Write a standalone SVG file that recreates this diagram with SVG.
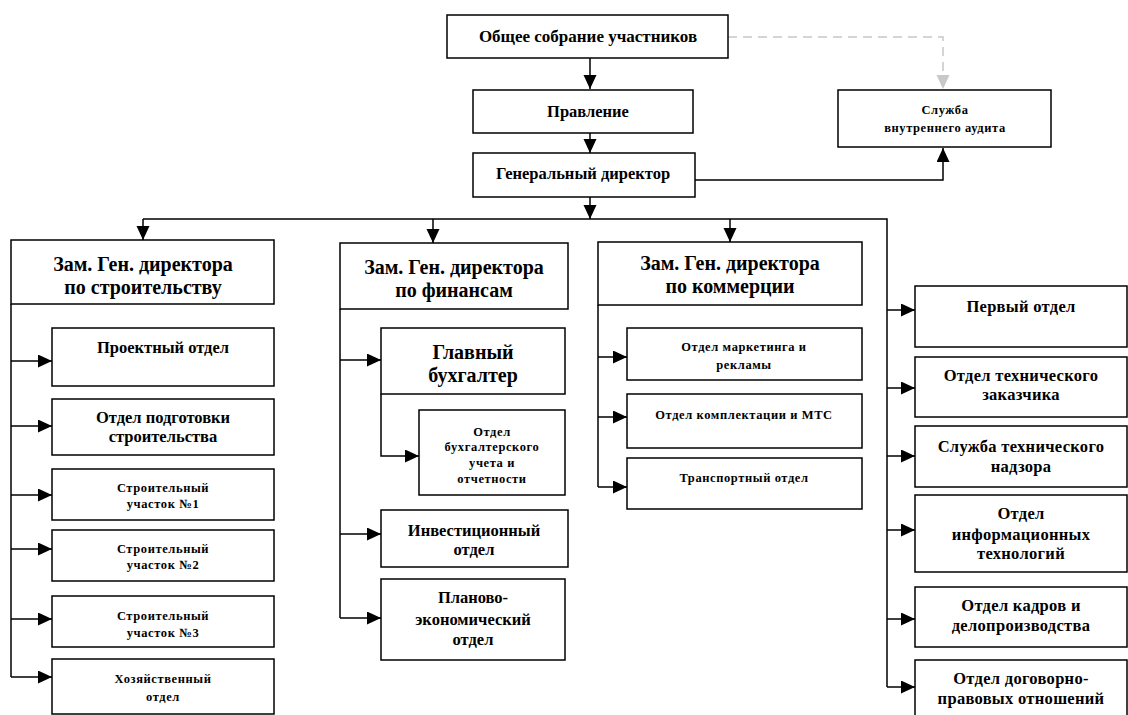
<svg xmlns="http://www.w3.org/2000/svg" width="1128" height="715" viewBox="0 0 1128 715">
<defs>
<marker id="ah" markerUnits="userSpaceOnUse" markerWidth="15" markerHeight="14" refX="14" refY="6.5" orient="auto"><path d="M0,0 L14,6.5 L0,13 z" fill="#000"/></marker>
<marker id="ahg" markerUnits="userSpaceOnUse" markerWidth="15" markerHeight="14" refX="14" refY="6.5" orient="auto"><path d="M0,0 L14,6.5 L0,13 z" fill="#c8c8c8"/></marker>
<style>
rect{fill:#fff;stroke:#000;stroke-width:1.5}
text{font-family:"Liberation Serif","Times New Roman",serif;font-weight:bold;fill:#000;text-anchor:middle}
.m{font-size:16.5px}
.b{font-size:20px}
.r{font-size:16.5px;letter-spacing:0.3px}
.s{font-size:12.5px;letter-spacing:0.6px}
.c{fill:none;stroke:#000;stroke-width:1.5}
</style>
</defs>
<g id="connectors">
<path class="c" d="M590,58 V89" marker-end="url(#ah)"/>
<path class="c" d="M590,133 V153" marker-end="url(#ah)"/>
<path d="M728,37 H943 V89" fill="none" stroke="#c8c8c8" stroke-width="1.5" stroke-dasharray="9,6" marker-end="url(#ahg)"/>
<path class="c" d="M695,180 H943 V148" marker-end="url(#ah)"/>
<path class="c" d="M590,197 V219" marker-end="url(#ah)"/>
<path class="c" d="M143,219 H887 V687"/>
<path class="c" d="M143,219 V240" marker-end="url(#ah)"/>
<path class="c" d="M433,219 V243" marker-end="url(#ah)"/>
<path class="c" d="M730,219 V242" marker-end="url(#ah)"/>
<path class="c" d="M11,304 V677"/>
<path class="c" d="M11,361 H52" marker-end="url(#ah)"/>
<path class="c" d="M11,426 H52" marker-end="url(#ah)"/>
<path class="c" d="M11,495 H52" marker-end="url(#ah)"/>
<path class="c" d="M11,549 H52" marker-end="url(#ah)"/>
<path class="c" d="M11,619 H52" marker-end="url(#ah)"/>
<path class="c" d="M11,677 H52" marker-end="url(#ah)"/>
<path class="c" d="M340,309 V618"/>
<path class="c" d="M340,360 H381" marker-end="url(#ah)"/>
<path class="c" d="M340,534 H381" marker-end="url(#ah)"/>
<path class="c" d="M340,618 H381" marker-end="url(#ah)"/>
<path class="c" d="M381,394 V456 H419" marker-end="url(#ah)"/>
<path class="c" d="M598,305 V487"/>
<path class="c" d="M598,357 H627" marker-end="url(#ah)"/>
<path class="c" d="M598,417 H627" marker-end="url(#ah)"/>
<path class="c" d="M598,487 H627" marker-end="url(#ah)"/>
<path class="c" d="M887,310 H915" marker-end="url(#ah)"/>
<path class="c" d="M887,388 H915" marker-end="url(#ah)"/>
<path class="c" d="M887,456 H915" marker-end="url(#ah)"/>
<path class="c" d="M887,530 H915" marker-end="url(#ah)"/>
<path class="c" d="M887,619 H915" marker-end="url(#ah)"/>
<path class="c" d="M887,687 H915" marker-end="url(#ah)"/>
</g>
<g id="n-sobranie"><rect x="447" y="15" width="281" height="43"/><text class="m" x="588" y="42" style="font-size:17px">Общее собрание участников</text></g>
<g id="n-pravlenie"><rect x="473" y="90" width="220" height="43"/><text class="m" x="588" y="117">Правление</text></g>
<g id="n-gendir"><rect x="473" y="153" width="222" height="44"/><text class="m" x="583" y="179">Генеральный директор</text></g>
<g id="n-audit"><rect x="838" y="90" width="213" height="57"/><text class="s" x="945" y="114">Служба</text><text class="s" x="945" y="132">внутреннего аудита</text></g>

<g id="n-zam-str"><rect x="11" y="240" width="263" height="64"/><text class="b" x="143" y="271">Зам. Ген. директора</text><text class="b" x="143" y="294">по строительству</text></g>
<g id="n-proekt"><rect x="52" y="328" width="222" height="58"/><text class="m" x="163" y="353">Проектный отдел</text></g>
<g id="n-podgot"><rect x="52" y="399" width="222" height="56"/><text class="m" x="163" y="423">Отдел подготовки</text><text class="m" x="163" y="442">строительства</text></g>
<g id="n-uch1"><rect x="52" y="469" width="222" height="51"/><text class="s" x="163" y="492">Строительный</text><text class="s" x="163" y="508">участок №1</text></g>
<g id="n-uch2"><rect x="52" y="530" width="222" height="51"/><text class="s" x="163" y="553">Строительный</text><text class="s" x="163" y="569">участок №2</text></g>
<g id="n-uch3"><rect x="52" y="596" width="222" height="51"/><text class="s" x="163" y="620">Строительный</text><text class="s" x="163" y="637">участок №3</text></g>
<g id="n-hoz"><rect x="52" y="659" width="222" height="55"/><text class="s" x="163" y="683">Хозяйственный</text><text class="s" x="163" y="701">отдел</text></g>

<g id="n-zam-fin"><rect x="340" y="243" width="228" height="66"/><text class="b" x="454" y="274">Зам. Ген. директора</text><text class="b" x="454" y="297">по финансам</text></g>
<g id="n-glavbuh"><rect x="381" y="328" width="184" height="66"/><text class="b" x="473" y="359">Главный</text><text class="b" x="473" y="382">бухгалтер</text></g>
<g id="n-buhuchet"><rect x="419" y="410" width="146" height="85"/><text class="s" x="492" y="436">Отдел</text><text class="s" x="492" y="451">бухгалтерского</text><text class="s" x="492" y="467">учета и</text><text class="s" x="492" y="483">отчетности</text></g>
<g id="n-invest"><rect x="381" y="510" width="187" height="57"/><text class="m" x="474" y="536">Инвестиционный</text><text class="m" x="474" y="555">отдел</text></g>
<g id="n-planovo"><rect x="381" y="579" width="184" height="81"/><text class="m" x="473" y="603">Планово-</text><text class="m" x="473" y="625">экономический</text><text class="m" x="473" y="645">отдел</text></g>

<g id="n-zam-kom"><rect x="598" y="242" width="264" height="63"/><text class="b" x="730" y="270">Зам. Ген. директора</text><text class="b" x="730" y="293">по коммерции</text></g>
<g id="n-marketing"><rect x="627" y="328" width="235" height="52"/><text class="s" x="744" y="351">Отдел маркетинга и</text><text class="s" x="744" y="369">рекламы</text></g>
<g id="n-komplekt"><rect x="627" y="394" width="235" height="54"/><text class="s" x="744" y="419">Отдел комплектации и МТС</text></g>
<g id="n-transport"><rect x="627" y="458" width="235" height="51"/><text class="s" x="744" y="482">Транспортный отдел</text></g>

<g id="n-perviy"><rect x="915" y="286" width="212" height="61"/><text class="r" x="1021" y="312">Первый отдел</text></g>
<g id="n-tehzak"><rect x="915" y="357" width="212" height="60"/><text class="r" x="1021" y="381">Отдел технического</text><text class="r" x="1021" y="400">заказчика</text></g>
<g id="n-nadzor"><rect x="915" y="426" width="212" height="61"/><text class="r" x="1021" y="452">Служба технического</text><text class="r" x="1021" y="472">надзора</text></g>
<g id="n-it"><rect x="915" y="495" width="212" height="77"/><text class="r" x="1021" y="519">Отдел</text><text class="r" x="1021" y="540">информационных</text><text class="r" x="1021" y="559">технологий</text></g>
<g id="n-kadry"><rect x="915" y="587" width="212" height="60"/><text class="r" x="1021" y="611">Отдел кадров и</text><text class="r" x="1021" y="631">делопроизводства</text></g>
<g id="n-dogovor"><rect x="915" y="660" width="212" height="60"/><text class="r" x="1021" y="684">Отдел договорно-</text><text class="r" x="1021" y="704">правовых отношений</text></g>
</svg>
